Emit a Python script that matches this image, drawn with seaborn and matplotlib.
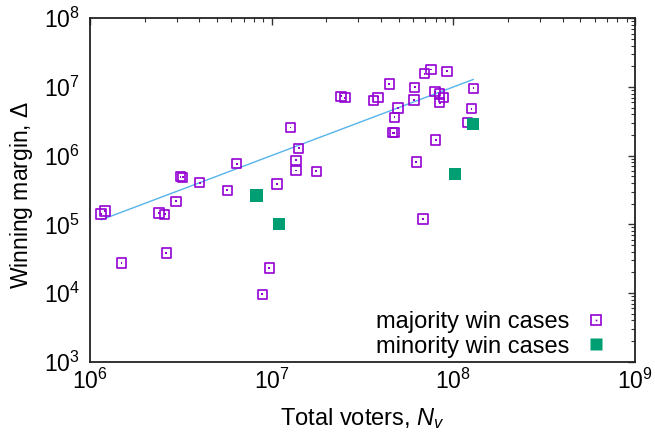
import numpy as np
import pandas as pd
import matplotlib
matplotlib.use("Agg")
import matplotlib.pyplot as plt
import seaborn as sns
from matplotlib.ticker import LogLocator, FixedLocator, FixedFormatter, NullFormatter
from matplotlib.lines import Line2D

# ---- data ----
maj_voters = [1.15e6, 1.21e6, 1.49e6, 2.40e6, 2.58e6, 2.63e6, 2.97e6, 3.15e6, 3.24e6,
              4.02e6, 5.70e6, 6.42e6, 1.07e7, 1.27e7, 9.71e6, 8.88e6, 1.41e7, 1.36e7,
              1.36e7, 1.76e7, 2.41e7, 2.53e7, 3.64e7, 3.85e7, 4.44e7, 4.95e7, 4.75e7,
              4.63e7, 4.73e7, 6.25e7, 6.13e7, 6.07e7, 6.95e7, 7.53e7, 9.22e7, 7.93e7,
              8.37e7, 8.84e7, 8.41e7, 8.00e7, 6.81e7, 1.29e8, 1.26e8, 1.20e8]
maj_margin = [1.42e5, 1.57e5, 2.72e4, 1.47e5, 1.40e5, 3.84e4, 2.17e5, 4.94e5, 4.85e5,
              4.04e5, 3.13e5, 7.65e5, 3.84e5, 2.56e6, 2.32e4, 9.6e3, 1.28e6, 8.57e5,
              6.05e5, 5.93e5, 7.33e6, 6.98e6, 6.40e6, 7.08e6, 1.11e7, 4.94e6, 3.62e6,
              2.16e6, 2.16e6, 8.09e5, 9.91e6, 6.47e6, 1.56e7, 1.79e7, 1.69e7, 8.55e6,
              7.91e6, 6.98e6, 5.90e6, 1.69e6, 1.20e5, 9.58e6, 4.83e6, 3.02e6]
min_voters = [1.28e8, 1.02e8, 8.26e6, 1.10e7]
min_margin = [2.89e6, 5.42e5, 2.62e5, 1.02e5]
fit_voters = [1.15e6, 1.29e8]
fit_margin = [1.16e5, 1.29e7]

x_ticks = [1e6, 1e7, 1e8, 1e9]
x_ticklabels = ["$10^{6}$", "$10^{7}$", "$10^{8}$", "$10^{9}$"]
y_ticks = [1e3, 1e4, 1e5, 1e6, 1e7, 1e8]
y_ticklabels = ["$10^{3}$", "$10^{4}$", "$10^{5}$", "$10^{6}$", "$10^{7}$", "$10^{8}$"]

maj_df = pd.DataFrame({"voters": maj_voters, "margin": maj_margin})
min_df = pd.DataFrame({"voters": min_voters, "margin": min_margin})
fit_df = pd.DataFrame({"voters": fit_voters, "margin": fit_margin})

sns.set_style("white")
plt.rcParams["font.family"] = ["Liberation Sans", "DejaVu Sans"]
plt.rcParams["mathtext.fontset"] = "custom"
plt.rcParams["mathtext.rm"] = "Liberation Sans"
plt.rcParams["mathtext.it"] = "Liberation Sans:italic"
plt.rcParams["mathtext.bf"] = "Liberation Sans:bold"
plt.rcParams["text.color"] = "black"
plt.rcParams["axes.labelcolor"] = "black"
plt.rcParams["xtick.labelcolor"] = "black"
plt.rcParams["ytick.labelcolor"] = "black"

purple = "#9400d3"
green = "#009e73"
blue = "#56b4e9"

fig = plt.figure(figsize=(6.55, 4.36), dpi=100)
ax = fig.add_axes([90/655, 1 - 361.7/436, 545/655, 343.4/436])

sns.lineplot(data=fit_df, x="voters", y="margin", ax=ax, color=blue, linewidth=1.0,
             legend=False, zorder=2)
sns.scatterplot(data=maj_df, x="voters", y="margin", ax=ax, marker="s", s=46,
                facecolor="none", edgecolor=purple, linewidth=1.2, zorder=3,
                legend=False)
sns.scatterplot(data=maj_df, x="voters", y="margin", ax=ax, marker="s", s=1.5,
                color=purple, edgecolor="none", linewidth=0, zorder=3, legend=False)
sns.scatterplot(data=min_df, x="voters", y="margin", ax=ax, marker="s", s=80,
                color=green, edgecolor="none", linewidth=0, zorder=4,
                legend=False)

ax.set_xscale("log")
ax.set_yscale("log")
ax.set_xlim(1e6, 1e9)
ax.set_ylim(1e3, 1e8)

ax.xaxis.set_major_locator(FixedLocator(x_ticks))
ax.xaxis.set_major_formatter(FixedFormatter(x_ticklabels))
ax.yaxis.set_major_locator(FixedLocator(y_ticks))
ax.yaxis.set_major_formatter(FixedFormatter(y_ticklabels))
ax.xaxis.set_minor_locator(LogLocator(base=10, subs=np.arange(2, 10), numticks=20))
ax.yaxis.set_minor_locator(LogLocator(base=10, subs=np.arange(2, 10), numticks=20))
ax.xaxis.set_minor_formatter(NullFormatter())
ax.yaxis.set_minor_formatter(NullFormatter())

ax.tick_params(which="both", direction="in", top=True, right=True, color="#333333")
ax.tick_params(which="major", length=5, width=1.0, labelsize=16.5, pad=5,
               labelcolor="black")
ax.tick_params(which="minor", length=2.8, width=0.8)
ax.tick_params(axis="y", which="major", pad=7)
for sp in ax.spines.values():
    sp.set_linewidth(1.3)
    sp.set_color("#222222")

ax.set_xlabel("Total voters, $N_v$", fontsize=17, labelpad=9, color="black")
ax.set_ylabel("Winning margin, $\\Delta$", fontsize=16.5, color="black")
ax.yaxis.set_label_coords(-0.101, 0.485)

h_maj = Line2D([], [], marker="s", linestyle="none", markersize=6.8,
               markerfacecolor="none", markeredgecolor=purple, markeredgewidth=1.2)
h_dot = Line2D([], [], marker="s", linestyle="none", markersize=1.2,
               markerfacecolor=purple, markeredgecolor="none")
h_min = Line2D([], [], marker="s", linestyle="none", markersize=9,
               markerfacecolor=green, markeredgecolor="none")
leg = ax.legend([(h_maj, h_dot), h_min], ["majority win cases", "minority win cases"],
                loc="lower right", frameon=False, markerfirst=False, fontsize=17,
                handlelength=1.0, handletextpad=0.6, labelspacing=0.1,
                borderpad=0.1, borderaxespad=0.0, bbox_to_anchor=(0.954, 0.005))
for t in leg.get_texts():
    t.set_color("black")

fig.savefig("out.png", dpi=100)
